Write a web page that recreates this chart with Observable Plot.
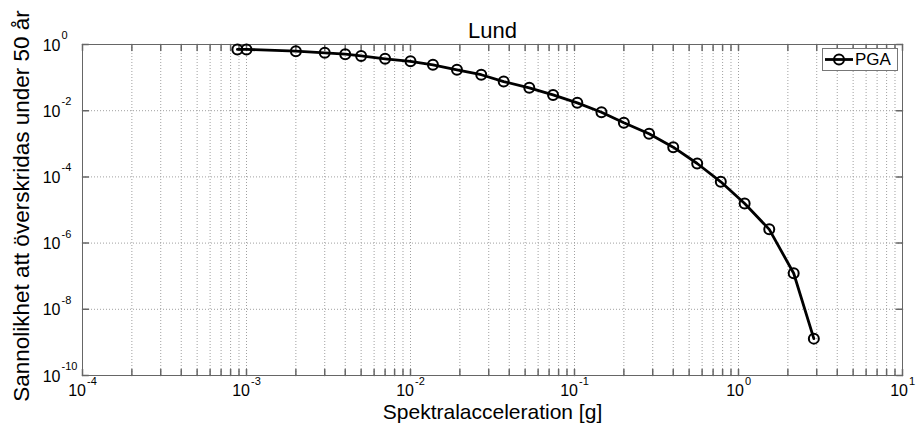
<!DOCTYPE html>
<html>
<head>
<meta charset="utf-8">
<script src="https://cdn.jsdelivr.net/npm/d3@7"></script>
<script src="https://cdn.jsdelivr.net/npm/@observablehq/plot@0.6"></script>
<style>
  html, body { margin: 0; padding: 0; background: #fff; }
  #wrap { position: relative; width: 917px; height: 431px; font-family: "Liberation Sans", Arial, sans-serif; }
  #legend { position: absolute; left: 822px; top: 48px; width: 76px; height: 23px; box-sizing: border-box;
            border: 1px solid #777; background: #fff; display: flex; align-items: center; }
  #legend span { font-size: 17px; color: #000; margin-left: 0px; }
</style>
</head>
<body>
<div id="wrap"></div>
<script>
// ---- data ----
const title = "Lund";
const seriesName = "PGA";
const xLabel = "Spektralacceleration [g]";
const yLabel = "Sannolikhet att överskridas under 50 år";

const acceleration = [0.00088, 0.001, 0.002, 0.003, 0.004, 0.005, 0.007, 0.01, 0.0137, 0.0192, 0.027, 0.037, 0.053, 0.074, 0.104, 0.146, 0.2, 0.285, 0.40, 0.56, 0.78, 1.09, 1.54, 2.17, 2.88];
const probability  = [0.71, 0.71, 0.63, 0.56, 0.51, 0.45, 0.37, 0.31, 0.244, 0.172, 0.122, 0.076, 0.049, 0.030, 0.0173, 0.0090, 0.0043, 0.0020, 7.9e-4, 2.54e-4, 7.1e-5, 1.57e-5, 2.6e-6, 1.23e-7, 1.3e-9];

const xTickExps = [-4, -3, -2, -1, 0, 1];
const yTickExps = [0, -2, -4, -6, -8, -10];
const yGridExps = [-2, -4, -6, -8];
const minorMultipliers = [2, 3, 4, 5, 6, 7, 8, 9];

// ---- derived tables ----
const data = acceleration.map((a, i) => ({a, p: probability[i]}));
const xMajor = xTickExps.map(e => ({v: Math.pow(10, e), e: String(e)}));
const xMinor = xTickExps.slice(0, -1).flatMap(e => minorMultipliers.map(m => m * Math.pow(10, e)));
const xAllTicks = [...xMajor.map(d => d.v), ...xMinor];
const xGrid = xAllTicks.filter(v => v > 1.0001e-4 && v < 9.999);
const yMajor = yTickExps.map(e => ({v: Math.pow(10, e), e: String(e)}));
const yGrid = yGridExps.map(e => Math.pow(10, e));

const tickShape = {draw(context, l) { context.moveTo(0, 0); context.lineTo(0, -l); }};
const font = "Liberation Sans, Arial, sans-serif";
const frameColor = "#666";
const gridStyle = {stroke: "#a0a0a0", strokeWidth: 1, strokeDasharray: "1,2"};

const chart = Plot.plot({
  width: 917,
  height: 431,
  marginLeft: 82,
  marginRight: 15,
  marginTop: 44,
  marginBottom: 56,
  style: {fontFamily: font, background: "#fff", color: "#000"},
  x: {type: "log", domain: [1e-4, 10], axis: null},
  y: {type: "log", domain: [1e-10, 1], axis: null},
  marks: [
    Plot.ruleX(xGrid, {x: d => d, ...gridStyle}),
    Plot.ruleY(yGrid, {y: d => d, ...gridStyle}),
    // ticks (inward)
    Plot.vector(xAllTicks, {x: d => d, frameAnchor: "bottom", length: 6, rotate: 0, anchor: "start", shape: tickShape, stroke: frameColor}),
    Plot.vector(xAllTicks, {x: d => d, frameAnchor: "top", length: 6, rotate: 180, anchor: "start", shape: tickShape, stroke: frameColor}),
    Plot.vector(yMajor, {y: "v", frameAnchor: "left", length: 6, rotate: 90, anchor: "start", shape: tickShape, stroke: frameColor}),
    Plot.vector(yMajor, {y: "v", frameAnchor: "right", length: 6, rotate: -90, anchor: "start", shape: tickShape, stroke: frameColor}),
    Plot.frame({stroke: frameColor, strokeWidth: 1}),
    // data
    Plot.line(data, {x: "a", y: "p", stroke: "#000", strokeWidth: 2.8}),
    Plot.dot(data, {x: "a", y: "p", r: 5, stroke: "#000", strokeWidth: 2, fill: "none"}),
    // x tick labels
    Plot.text(xMajor.filter(d => d.e.length > 1), {x: "v", text: () => "10", frameAnchor: "bottom", dy: 20, dx: 3.5, textAnchor: "end", fontSize: 16, fill: "#000"}),
    Plot.text(xMajor.filter(d => d.e.length > 1), {x: "v", text: "e", frameAnchor: "bottom", dy: 9, dx: 4.5, textAnchor: "start", fontSize: 11, fill: "#000"}),
    Plot.text(xMajor.filter(d => d.e.length === 1), {x: "v", text: () => "10", frameAnchor: "bottom", dy: 20, dx: 5.5, textAnchor: "end", fontSize: 16, fill: "#000"}),
    Plot.text(xMajor.filter(d => d.e.length === 1), {x: "v", text: "e", frameAnchor: "bottom", dy: 9, dx: 6.5, textAnchor: "start", fontSize: 11, fill: "#000"}),
    // y tick labels
    Plot.text(yMajor, {y: "v", text: () => "10", frameAnchor: "left", dx: -22, dy: 1, textAnchor: "end", fontSize: 16, fill: "#000"}),
    Plot.text(yMajor, {y: "v", text: "e", frameAnchor: "left", dx: -21, dy: -9, textAnchor: "start", fontSize: 11, fill: "#000"}),
    // titles
    Plot.text([title], {text: d => d, frameAnchor: "top", dy: -22, textAnchor: "middle", fontSize: 22, fill: "#000"}),
    Plot.text([xLabel], {text: d => d, frameAnchor: "bottom", dy: 43, textAnchor: "middle", fontSize: 21, fill: "#000"}),
    Plot.text([yLabel], {text: d => d, frameAnchor: "left", dx: -61, dy: -4, rotate: -90, textAnchor: "middle", fontSize: 22.5, fill: "#000"})
  ]
});

const wrap = document.getElementById("wrap");
wrap.appendChild(chart);

// legend
const legend = document.createElement("div");
legend.id = "legend";
const ns = "http://www.w3.org/2000/svg";
const ls = document.createElementNS(ns, "svg");
ls.setAttribute("width", "32"); ls.setAttribute("height", "21");
const ln = document.createElementNS(ns, "line");
ln.setAttribute("x1", "2"); ln.setAttribute("x2", "30"); ln.setAttribute("y1", "10.5"); ln.setAttribute("y2", "10.5");
ln.setAttribute("stroke", "#000"); ln.setAttribute("stroke-width", "2.8");
const ci = document.createElementNS(ns, "circle");
ci.setAttribute("cx", "16"); ci.setAttribute("cy", "10.5"); ci.setAttribute("r", "5");
ci.setAttribute("fill", "none"); ci.setAttribute("stroke", "#000"); ci.setAttribute("stroke-width", "2");
ls.appendChild(ln); ls.appendChild(ci);
legend.appendChild(ls);
const sp = document.createElement("span");
sp.textContent = seriesName;
legend.appendChild(sp);
wrap.appendChild(legend);
</script>
</body>
</html>
